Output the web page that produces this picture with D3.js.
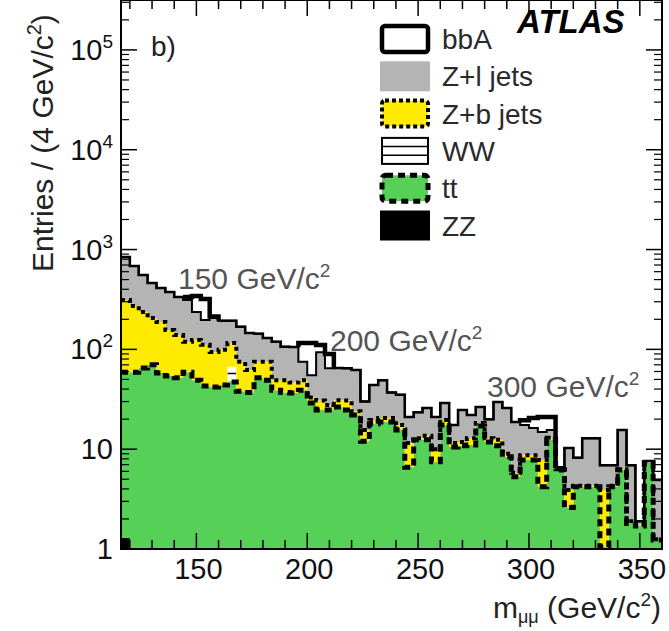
<!DOCTYPE html>
<html><head><meta charset="utf-8">
<script src="https://cdn.jsdelivr.net/npm/d3@7"></script>
<style>body{margin:0;background:#fff}svg{display:block}</style>
</head><body>
<svg id="c" width="669" height="631"></svg>
<script>
// ---------- data (entries per 4 GeV bin, 116..360 GeV) ----------
const binStart = 116, binWidth = 4;
const zz  = [1.3,0.4,0.4,0.4,0.4,0.4,0.4,0.4,0.4,0.4,0.4,0.4,0.4,0.4,0.4,0.4,0.4,0.4,0.4,0.4,0.4,0.4,0.4,0.4,0.4,0.4,0.4,0.4,0.4,0.4,0.4,0.4,0.4,0.4,0.4,0.4,0.4,0.4,0.4,0.4,0.4,0.4,0.4,0.4,0.4,0.4,0.4,0.4,0.4,0.4,0.4,0.4,0.4,0.4,0.4,0.4,0.4,0.4,0.4,0.4,0.4];
const tt  = [57.7,58.6,64.6,69.6,57.6,53.6,51.6,58.6,48.6,42.6,41.6,43.6,46.6,37.6,36.6,51.6,48.6,38.6,36.6,36.2,38.6,28.6,24.3,24.3,26,24.3,21.6,11.6,17.6,18.3,18.3,15.2,6.2,12,12,7.1,17.1,10.1,10.4,10.6,16.7,11.4,10.4,8,4.9,7.4,7.4,3.8,12,5.8,2.2,3.8,3.8,3.8,0.65,3.8,5.8,1.4,1.3,6.9,0.83];
const ww  = [0,0,0,0,0,0,0,0,0,0,0,0,20,0,0,0,0,0,0,0,0,0,0,0,0,0,0,0,0,0,0,0,0,0,0,0,0,0,0,0,0,0,0,0,0,0,0,0,0,0,0,0,0,0,0,0,0,0,0,0,0];
const zb  = [254,213,172,136,130,102,87,60,75,68,52,55,49,37,25,23,26,10,12,10,10,4,6,3,4.5,6,2,3.6,1.6,1.8,1.8,1.9,4.9,0.5,1.2,2.5,2.1,1,1,1.9,1.2,1.1,1.6,0.6,0.5,0.9,0.9,3.6,0.6,0.1,1.3,0.1,0.1,0.1,2.85,0.1,0.1,0.1,0.05,0.1,0.02];
const zl  = [530,413,319,257,224,220,196,194,113,86,112,94,77,93,84,68,55,70,57,59,26,22,63,37,34,34,38,14.4,24.4,28.5,16.5,17.5,9.5,10.6,12.3,11,9.4,6,12.9,9.1,8.2,7.1,17.3,16.9,12.9,8.8,7.6,7.1,2.6,0.3,6.4,3.9,8.6,8.6,3,2.6,9.3,5,0.15,0.2,3.65];
const bba = [0,0,0,0,0,0,0,22,106,123,8,0,0,0,0,0,0,0,0,0,41,61,17,25,0,0,0,0,0,0,0,0,0,0,0,0,0,0,0,0,0,0,0,0,0,2,4.2,6.1,5.4,0,0,0,0,0,0,0,0,0,0,0,0];
const legendLabels = ["bbA","Z+l jets","Z+b jets","WW","tt","ZZ"];
const xMajorTicks = [150,200,250,300,350];
const yMajorTicks = [1,10,100,1000,10000,100000];
const yTickBase = ["1","10","10","10","10","10"];
const yTickExp  = ["","","2","3","4","5"];
const massPoints = ["150","200","300"];

// ---------- layout ----------
const L = 121, R = 662, T = 0, B = 549;
const FONT = "'Liberation Sans', Arial, Helvetica, sans-serif";
const svg = d3.select("#c");
const xs = d3.scaleLinear().domain([binStart, binStart + binWidth * zz.length]).range([L, R]);
const ys = d3.scaleLog().domain([1, Math.pow(10, 5.5)]).range([B, T]).clamp(true);
const edges = d3.range(zz.length + 1).map(i => binStart + i * binWidth);

const defs = svg.append("defs");
defs.append("clipPath").attr("id", "clip").append("rect")
  .attr("x", L).attr("y", T).attr("width", R - L).attr("height", B - T);
const pat = defs.append("pattern").attr("id", "hatch").attr("patternUnits", "userSpaceOnUse")
  .attr("width", 8).attr("height", 9);
pat.append("rect").attr("width", 8).attr("height", 9).attr("fill", "#fff");
pat.append("line").attr("x1", 0).attr("x2", 8).attr("y1", 4.5).attr("y2", 4.5).attr("stroke", "#000").attr("stroke-width", 1.5);

// cumulative stacks
const layers = [zz, tt, ww, zb, zl, bba];
const cum = [];
let acc = zz.map(() => 0);
layers.forEach(arr => { acc = acc.map((v, i) => v + arr[i]); cum.push(acc.slice()); });
const lowerOf = k => k === 0 ? zz.map(() => 0) : cum[k - 1];

const fills = ["#000000", "#57d057", "url(#hatch)", "#ffeb00", "#b4b4b4", "#ffffff"];
const g = svg.append("g").attr("clip-path", "url(#clip)");
const area = d3.area().x(d => xs(d[0])).y0(d => ys(Math.max(d[1], 1))).y1(d => ys(Math.max(d[2], 1)));
layers.forEach((arr, k) => {
  const lo = lowerOf(k), hi = cum[k];
  const pts = [];
  arr.forEach((v, i) => { pts.push([edges[i], lo[i], hi[i]]); pts.push([edges[i + 1], lo[i], hi[i]]); });
  g.append("path").attr("d", area(pts)).attr("fill", fills[k]).attr("stroke", "none");
});

const line = d3.line().x(d => xs(d[0])).y(d => ys(Math.max(d[1], 1)));
function stepPts(vals) { const p = []; vals.forEach((v, i) => { p.push([edges[i], v]); p.push([edges[i + 1], v]); }); return p; }

// outlines
g.append("path").attr("d", line(stepPts(cum[4]))).attr("fill", "none").attr("stroke", "#000").attr("stroke-width", 2);
g.append("path").attr("d", line(stepPts(cum[5]))).attr("fill", "none").attr("stroke", "#000").attr("stroke-width", 2.5);
g.append("path").attr("d", line(stepPts(cum[3]))).attr("fill", "none").attr("stroke", "#000").attr("stroke-width", 4).attr("stroke-dasharray", "4,4");
g.append("path").attr("d", line(stepPts(cum[1]))).attr("fill", "none").attr("stroke", "#000").attr("stroke-width", 5).attr("stroke-dasharray", "7,5");

// signal runs (thick)
let i = 0;
while (i < bba.length) {
  if (bba[i] > 0) {
    let j = i; while (j + 1 < bba.length && bba[j + 1] > 0) j++;
    const pts = [];
    pts.push([edges[i], i > 0 ? cum[5][i - 1] : cum[5][i]]);
    for (let k = i; k <= j; k++) { pts.push([edges[k], cum[5][k]]); pts.push([edges[k + 1], cum[5][k]]); }
    pts.push([edges[j + 1], j + 1 < bba.length ? cum[5][j + 1] : cum[5][j]]);
    g.append("path").attr("d", line(pts)).attr("fill", "none").attr("stroke", "#000").attr("stroke-width", 4.5).attr("stroke-linejoin", "miter");
    i = j + 1;
  } else i++;
}

// frame & ticks
const ax = svg.append("g").attr("stroke", "#000");
ax.append("rect").attr("x", L).attr("y", T).attr("width", R - L).attr("height", B - T)
  .attr("fill", "none").attr("stroke-width", 2);
const xMinor = d3.range(120, 361, 10).filter(v => !xMajorTicks.includes(v));
xMajorTicks.forEach(v => {
  ax.append("line").attr("x1", xs(v)).attr("x2", xs(v)).attr("y1", B).attr("y2", B - 16).attr("stroke-width", 1.5);
  ax.append("line").attr("x1", xs(v)).attr("x2", xs(v)).attr("y1", T).attr("y2", T + 16).attr("stroke-width", 1.5);
});
xMinor.forEach(v => {
  ax.append("line").attr("x1", xs(v)).attr("x2", xs(v)).attr("y1", B).attr("y2", B - 9).attr("stroke-width", 1.5);
  ax.append("line").attr("x1", xs(v)).attr("x2", xs(v)).attr("y1", T).attr("y2", T + 9).attr("stroke-width", 1.5);
});
const yMinor = [];
yMajorTicks.forEach(d => { for (let m = 2; m <= 9; m++) { const v = d * m; if (v <= Math.pow(10, 5.5)) yMinor.push(v); } });
yMajorTicks.forEach(v => {
  ax.append("line").attr("x1", L).attr("x2", L + 16).attr("y1", ys(v)).attr("y2", ys(v)).attr("stroke-width", 1.5);
  ax.append("line").attr("x1", R).attr("x2", R - 16).attr("y1", ys(v)).attr("y2", ys(v)).attr("stroke-width", 1.5);
});
yMinor.forEach(v => {
  ax.append("line").attr("x1", L).attr("x2", L + 8).attr("y1", ys(v)).attr("y2", ys(v)).attr("stroke-width", 1.2);
  ax.append("line").attr("x1", R).attr("x2", R - 8).attr("y1", ys(v)).attr("y2", ys(v)).attr("stroke-width", 1.2);
});

// tick labels
xMajorTicks.forEach(v => {
  svg.append("text").attr("x", xs(v) + 2).attr("y", 579).attr("text-anchor", "middle")
    .attr("font-family", FONT).attr("font-size", 29).attr("fill", "#111").text(v);
});
yMajorTicks.forEach((v, k) => {
  const t = svg.append("text").attr("x", 113).attr("y", ys(v) + 10).attr("text-anchor", "end")
    .attr("font-family", FONT).attr("font-size", 29).attr("fill", "#111");
  t.append("tspan").text(yTickBase[k]);
  if (yTickExp[k]) t.append("tspan").attr("dy", -12).attr("font-size", 19).text(yTickExp[k]);
});

// axis titles
const yt = svg.append("text").attr("transform", "translate(53,272) rotate(-90)")
  .attr("font-family", FONT).attr("font-size", 30).attr("fill", "#222");
yt.append("tspan").text("Entries / (4 GeV/c");
yt.append("tspan").attr("dy", -12).attr("font-size", 20).text("2");
yt.append("tspan").attr("dy", 12).text(")");

const xt = svg.append("text").attr("x", 661).attr("y", 618).attr("text-anchor", "end")
  .attr("font-family", FONT).attr("font-size", 30).attr("fill", "#222");
xt.append("tspan").text("m");
xt.append("tspan").attr("dy", 5).attr("font-size", 18).text("μμ");
xt.append("tspan").attr("dy", -5).text(" (GeV/c");
xt.append("tspan").attr("dy", -12).attr("font-size", 19).text("2");
xt.append("tspan").attr("dy", 12).text(")");

// labels
svg.append("text").attr("x", 151).attr("y", 56).attr("font-family", FONT).attr("font-size", 28).attr("fill", "#222").text("b)");
svg.append("text").attr("x", 517).attr("y", 33).attr("font-family", FONT).attr("font-size", 33)
  .attr("font-weight", "bold").attr("font-style", "italic").attr("fill", "#000").text("ATLAS");

const massPos = [[178, 289], [330, 351], [487, 397]];
massPoints.forEach((m, k) => {
  const t = svg.append("text").attr("x", massPos[k][0]).attr("y", massPos[k][1])
    .attr("font-family", FONT).attr("font-size", 30).attr("fill", "#555");
  t.append("tspan").text(m + " GeV/c");
  t.append("tspan").attr("dy", -12).attr("font-size", 19).text("2");
});

// legend
const lg = svg.append("g");
legendLabels.forEach((lab, k) => {
  const cy = 39 + k * 37.3;
  const bx = 382, bw = 46, bh = 26, by = cy - bh / 2;
  const r = lg.append("rect").attr("x", bx).attr("y", by).attr("width", bw).attr("height", bh);
  if (k === 0) r.attr("fill", "#fff").attr("stroke", "#000").attr("stroke-width", 4.5).attr("rx", 3);
  if (k === 1) r.attr("fill", "#b4b4b4").attr("x", bx - 2).attr("y", by - 2).attr("width", bw + 4).attr("height", bh + 4);
  if (k === 2) r.attr("fill", "#ffeb00").attr("stroke", "#000").attr("stroke-width", 4).attr("stroke-dasharray", "4,3").attr("rx", 3);
  if (k === 3) {
    r.attr("fill", "#fff").attr("stroke", "#000").attr("stroke-width", 2);
    [1, 2].forEach(q => lg.append("line").attr("x1", bx).attr("x2", bx + bw)
      .attr("y1", by + q * bh / 3).attr("y2", by + q * bh / 3).attr("stroke", "#000").attr("stroke-width", 1.5));
  }
  if (k === 4) r.attr("fill", "#57d057").attr("stroke", "#000").attr("stroke-width", 5).attr("stroke-dasharray", "7,5").attr("rx", 4);
  if (k === 5) r.attr("fill", "#000").attr("x", bx - 2).attr("y", by - 2).attr("width", bw + 4).attr("height", bh + 4);
  lg.append("text").attr("x", 442).attr("y", cy + 10).attr("font-family", FONT).attr("font-size", 28)
    .attr("fill", "#2a2a2a").text(lab);
});
</script>
</body></html>
